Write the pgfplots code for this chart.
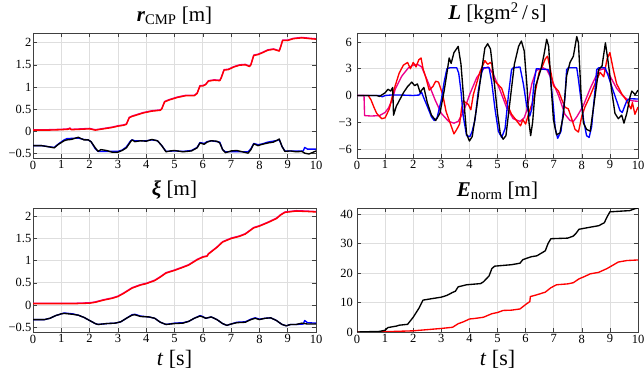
\documentclass[border=0pt]{standalone}
\usepackage{fontspec}
\setmainfont{Liberation Serif}
\usepackage{pgfplots}
\pgfplotsset{compat=1.18}
\pgfplotsset{panel/.style={
  scale only axis,
  xmin=0, xmax=10,
  xtick={0,1,2,3,4,5,6,7,8,9,10},
  xticklabels={0,1,2,3,4,5,6,7,8,9,10},
  grid=major,
  grid style={black!13, line width=0.7pt},
  axis line style={black!75, line width=0.6pt},
  tick style={black!75, line width=0.5pt},
  major tick length=4pt,
  tick align=inside,
  xtick pos=both, ytick pos=both,
  xticklabel pos=bottom, yticklabel pos=left,
  tick label style={font=\fontsize{12.5}{14}\selectfont},
  xticklabel style={inner sep=2.5pt},
  yticklabel style={inner sep=1.5pt},
  title style={font=\fontsize{21}{25}\selectfont, inner sep=0pt, anchor=south, at={(0.5,1)}, yshift=2.5pt},
  xlabel style={font=\fontsize{22}{26}\selectfont, inner sep=0pt, anchor=north, at={(0.5,0)}, yshift=-18pt},
  every axis plot/.append style={line width=1.35pt, line join=round, mark=none},
}}
\begin{document}
\begin{tikzpicture}
\useasboundingbox (0,0) rectangle (644pt,-374pt);
% ---------- top left ----------
\begin{axis}[panel, at={(33pt,-33pt)}, anchor=north west, width=283pt, height=125pt,
  ymin=-0.61, ymax=2.22, ytick={-0.5,0,0.5,1,1.5,2}, yticklabels={−0.5,0,0.5,1,1.5,2},
  title={\textbf{\textit{r}}\textsubscript{CMP} [m]}]
\addplot[magenta] coordinates {(0,0.03)(0.5,0.03)(1.0,0.04)(1.25,0.05)(1.3,0.07)(1.35,0.04)(1.7,0.05)(2.0,0.06)(2.2,0.03)(2.5,0.06)(2.8,0.09)(3.0,0.12)(3.2,0.14)(3.3,0.16)(3.4,0.31)(3.5,0.34)(3.7,0.38)(3.9,0.42)(4.2,0.46)(4.5,0.48)(4.55,0.51)(4.65,0.67)(4.8,0.71)(5.1,0.77)(5.4,0.81)(5.7,0.81)(5.8,0.86)(5.9,1.03)(6.0,1.03)(6.1,1.06)(6.2,1.14)(6.4,1.16)(6.6,1.15)(6.65,1.21)(6.75,1.39)(6.9,1.4)(7.1,1.46)(7.3,1.5)(7.5,1.51)(7.65,1.47)(7.7,1.51)(7.8,1.72)(7.95,1.74)(8.1,1.78)(8.3,1.84)(8.5,1.86)(8.7,1.82)(8.75,1.91)(8.82,2.06)(9.0,2.06)(9.2,2.1)(9.5,2.12)(9.8,2.1)(10,2.09)};
\addplot[red] coordinates {(0,0.02)(0.5,0.02)(1.0,0.03)(1.25,0.04)(1.3,0.06)(1.35,0.03)(1.7,0.04)(2.0,0.05)(2.2,0.02)(2.5,0.05)(2.8,0.08)(3.0,0.11)(3.2,0.13)(3.3,0.15)(3.4,0.3)(3.5,0.33)(3.7,0.37)(3.9,0.41)(4.2,0.45)(4.5,0.47)(4.55,0.5)(4.65,0.66)(4.8,0.7)(5.1,0.76)(5.4,0.8)(5.7,0.8)(5.8,0.85)(5.9,1.02)(6.0,1.02)(6.1,1.05)(6.2,1.13)(6.4,1.15)(6.6,1.14)(6.65,1.2)(6.75,1.38)(6.9,1.39)(7.1,1.45)(7.3,1.49)(7.5,1.5)(7.65,1.46)(7.7,1.5)(7.8,1.71)(7.95,1.73)(8.1,1.77)(8.3,1.83)(8.5,1.85)(8.7,1.81)(8.75,1.9)(8.82,2.05)(9.0,2.05)(9.2,2.09)(9.5,2.11)(9.8,2.09)(10,2.08)};
\addplot[blue] coordinates {(0,-0.33)(0.3,-0.33)(0.5,-0.35)(0.75,-0.37)(0.9,-0.29)(1.1,-0.2)(1.2,-0.17)(1.6,-0.16)(1.8,-0.19)(1.95,-0.2)(2.05,-0.24)(2.2,-0.4)(2.3,-0.46)(3.0,-0.46)(3.15,-0.43)(3.3,-0.36)(3.45,-0.22)(3.5,-0.2)(3.6,-0.22)(4.0,-0.22)(4.2,-0.2)(4.4,-0.22)(4.55,-0.33)(4.7,-0.46)(5.0,-0.45)(5.3,-0.46)(5.6,-0.44)(5.8,-0.37)(5.9,-0.26)(6.05,-0.28)(6.15,-0.24)(6.3,-0.22)(6.6,-0.25)(6.7,-0.42)(6.8,-0.47)(7.6,-0.47)(7.7,-0.4)(7.8,-0.28)(7.95,-0.31)(8.1,-0.29)(8.3,-0.25)(8.65,-0.21)(8.7,-0.19)(8.8,-0.35)(8.9,-0.45)(9.55,-0.45)(9.6,-0.37)(9.7,-0.41)(10,-0.41)};
\addplot[black] coordinates {(0,-0.33)(0.3,-0.33)(0.5,-0.35)(0.75,-0.38)(0.9,-0.3)(1.1,-0.22)(1.2,-0.2)(1.35,-0.19)(1.45,-0.17)(1.6,-0.14)(1.7,-0.17)(1.8,-0.2)(1.95,-0.2)(2.05,-0.24)(2.2,-0.38)(2.3,-0.46)(2.4,-0.42)(2.6,-0.44)(2.8,-0.48)(3.0,-0.48)(3.15,-0.44)(3.3,-0.38)(3.45,-0.24)(3.5,-0.2)(3.6,-0.24)(3.8,-0.22)(4.0,-0.23)(4.2,-0.19)(4.4,-0.22)(4.55,-0.33)(4.7,-0.47)(4.85,-0.45)(5.0,-0.44)(5.3,-0.47)(5.6,-0.45)(5.8,-0.38)(5.9,-0.27)(6.05,-0.3)(6.15,-0.25)(6.3,-0.22)(6.5,-0.23)(6.6,-0.27)(6.7,-0.42)(6.8,-0.49)(7.0,-0.45)(7.2,-0.44)(7.4,-0.47)(7.6,-0.5)(7.7,-0.42)(7.8,-0.29)(7.95,-0.33)(8.1,-0.3)(8.3,-0.27)(8.5,-0.25)(8.65,-0.2)(8.7,-0.18)(8.8,-0.35)(8.9,-0.46)(9.1,-0.45)(9.3,-0.47)(9.5,-0.46)(9.6,-0.5)(9.75,-0.52)(9.9,-0.48)(10,-0.45)};
\end{axis}
% ---------- top right ----------
\begin{axis}[panel, at={(357pt,-33pt)}, anchor=north west, width=281pt, height=125pt,
  ymin=-7, ymax=7, ytick={-6,-3,0,3,6}, yticklabels={−6,−3,0,3,6},
  yticklabel style={inner sep=5pt},
  title={\textbf{\textit{L}} [kgm\textsuperscript{2}\,/\,s]}]
\addplot[magenta] coordinates {(0,0)(0.25,0)(0.27,-2.25)(0.5,-2.3)(0.8,-2.25)(1.0,-1.9)(1.12,-1.4)(1.25,-0.5)(1.36,0.7)(1.5,1.6)(1.6,2.2)(1.83,3.1)(2.0,3.4)(2.15,3.5)(2.3,3.2)(2.54,1.4)(2.78,-0.5)(3.0,-2.0)(3.26,-2.9)(3.45,-3.1)(3.6,-2.9)(3.78,-1.9)(4.02,0.2)(4.26,2.0)(4.5,3.0)(4.67,3.2)(4.85,2.4)(5.09,0.6)(5.33,-1.4)(5.56,-2.6)(5.8,-2.9)(5.95,-2.5)(6.04,-1.7)(6.22,1.3)(6.38,2.8)(6.62,3.1)(6.75,2.9)(6.93,1.8)(7.17,0.0)(7.4,-2.1)(7.58,-2.8)(7.7,-2.9)(7.82,-2.4)(8.06,-1.1)(8.3,0.8)(8.6,2.8)(8.78,3.0)(9.0,2.2)(9.24,0.8)(9.45,0.0)(9.6,-0.4)(9.8,-0.6)(10,-0.65)};
\addplot[red] coordinates {(0,0)(0.4,0)(0.5,-0.5)(0.6,-1.3)(0.7,-2.0)(0.88,-2.6)(1.0,-2.5)(1.15,-1.5)(1.3,0.5)(1.5,2.5)(1.65,3.4)(1.8,3.7)(1.9,3.0)(2.0,3.7)(2.1,3.2)(2.2,4.0)(2.28,4.2)(2.35,3.0)(2.45,2.0)(2.57,0.6)(2.7,1.0)(2.8,1.6)(2.9,1.5)(3.05,0.1)(3.17,-1.8)(3.35,-3.4)(3.45,-4.3)(3.55,-3.8)(3.65,-3.2)(3.72,-1.5)(3.78,-0.6)(3.96,-1.0)(4.05,-1.6)(4.14,0.1)(4.37,2.6)(4.55,3.9)(4.65,3.5)(4.75,3.7)(4.8,3.5)(4.85,1.8)(5.0,1.3)(5.15,0.8)(5.33,-0.9)(5.5,-2.1)(5.7,-2.9)(5.82,-3.4)(5.9,-2.7)(6.0,-3.2)(6.13,-1.8)(6.3,-0.3)(6.48,2.6)(6.6,3.3)(6.7,4.1)(6.78,4.4)(6.87,3.1)(6.99,1.1)(7.17,0.5)(7.28,-0.4)(7.4,-1.3)(7.52,-1.5)(7.64,-2.6)(7.76,-3.8)(7.88,-4.1)(8.0,-2.3)(8.11,-1.3)(8.3,0.0)(8.47,1.3)(8.65,2.6)(8.78,2.1)(8.9,4.1)(9.0,4.8)(9.12,2.9)(9.24,1.3)(9.42,0.2)(9.6,-0.6)(9.75,-1.5)(9.8,-0.8)(9.89,-2.1)(10,-1.3)};
\addplot[blue] coordinates {(0,0)(0.8,0)(0.9,-0.15)(1.0,0)(1.2,0.05)(1.6,0.05)(2.0,0.0)(2.2,0.05)(2.3,0.35)(2.38,-0.3)(2.5,-1.2)(2.65,-2.4)(2.75,-2.8)(2.85,-2.5)(3.0,-0.5)(3.1,1.5)(3.2,3.0)(3.3,3.1)(3.55,3.1)(3.62,2.5)(3.7,0.5)(3.78,-2.3)(3.9,-4.5)(4.02,-4.6)(4.1,-4.0)(4.2,-2.7)(4.32,0.6)(4.44,2.6)(4.5,3.1)(4.7,3.1)(4.79,1.6)(4.91,-1.5)(5.03,-4.0)(5.15,-4.7)(5.27,-3.7)(5.39,0.1)(5.5,2.9)(5.56,3.1)(5.8,3.2)(5.92,1.3)(6.04,-1.2)(6.15,-2.3)(6.22,-1.5)(6.3,1.5)(6.38,3.0)(6.8,2.9)(6.87,2.4)(6.99,-1.3)(7.05,-3.6)(7.14,-4.8)(7.26,-4.0)(7.4,-0.2)(7.46,2.9)(7.52,3.1)(7.82,3.1)(7.88,1.8)(8.06,-2.7)(8.17,-4.5)(8.26,-4.7)(8.35,-3.5)(8.47,0.6)(8.53,2.9)(8.6,3.1)(8.83,3.1)(8.94,2.2)(9.12,0.5)(9.36,-1.7)(9.44,-1.9)(9.6,-0.6)(9.7,-0.35)(10,-0.4)};
\addplot[black] coordinates {(0,0)(0.7,0)(0.8,-0.1)(0.9,0.1)(1.0,0.3)(1.1,0.7)(1.2,0.5)(1.27,0.9)(1.3,-2.2)(1.4,-1.2)(1.5,-0.6)(1.65,0.3)(1.8,1.0)(1.95,1.5)(2.05,1.1)(2.15,1.3)(2.25,0.3)(2.3,0.6)(2.38,0.9)(2.5,-0.8)(2.65,-2.2)(2.8,-2.8)(2.95,-2.0)(3.1,0.5)(3.2,2.5)(3.28,4.2)(3.35,3.6)(3.45,4.8)(3.6,5.5)(3.7,3.5)(3.8,-0.5)(3.9,-4.3)(4.0,-5.1)(4.1,-4.6)(4.25,-1.5)(4.4,2.0)(4.55,5.3)(4.65,5.8)(4.75,5.2)(4.85,2.5)(5.0,-2.0)(5.1,-4.3)(5.2,-4.9)(5.3,-4.5)(5.45,-0.5)(5.6,3.5)(5.75,5.5)(5.85,6.1)(5.95,5.0)(6.05,1.0)(6.12,-3.0)(6.18,-4.5)(6.25,-3.0)(6.35,1.0)(6.45,2.0)(6.55,3.0)(6.65,4.5)(6.75,6.3)(6.82,5.5)(6.9,1.4)(6.99,-2.7)(7.1,-4.4)(7.22,-4.2)(7.34,-2.3)(7.46,2.2)(7.58,3.7)(7.7,4.4)(7.82,6.6)(7.88,5.9)(7.97,0.3)(8.06,-3.1)(8.17,-3.8)(8.3,-4.0)(8.47,-0.1)(8.6,2.9)(8.72,3.3)(8.84,5.9)(8.94,3.7)(9.06,0.6)(9.18,-2.0)(9.3,-2.6)(9.42,-2.2)(9.5,-3.1)(9.6,-2.0)(9.72,-0.1)(9.78,0.5)(9.9,0.1)(10,0.6)};
\end{axis}
% ---------- bottom left ----------
\begin{axis}[panel, at={(33pt,-208pt)}, anchor=north west, width=283pt, height=124pt,
  ymin=-0.61, ymax=2.19, ytick={-0.5,0,0.5,1,1.5,2}, yticklabels={−0.5,0,0.5,1,1.5,2},
  title={\textbf{\textit{ξ}} [m]}, xlabel={\textit{t} [s]}]
\addplot[magenta] coordinates {(0,0.04)(1.0,0.04)(1.5,0.04)(2.0,0.05)(2.2,0.07)(2.5,0.12)(2.8,0.16)(3.0,0.2)(3.2,0.27)(3.5,0.39)(3.8,0.46)(4.0,0.49)(4.3,0.56)(4.5,0.64)(4.7,0.73)(5.0,0.79)(5.3,0.86)(5.5,0.91)(5.8,1.03)(6.0,1.09)(6.15,1.11)(6.2,1.16)(6.3,1.21)(6.5,1.31)(6.7,1.43)(7.0,1.51)(7.3,1.56)(7.5,1.61)(7.8,1.75)(8.0,1.79)(8.3,1.87)(8.6,1.96)(8.75,2.04)(8.9,2.1)(9.3,2.13)(9.7,2.12)(10,2.11)};
\addplot[red] coordinates {(0,0.03)(1.0,0.03)(1.5,0.03)(2.0,0.04)(2.2,0.06)(2.5,0.11)(2.8,0.15)(3.0,0.19)(3.2,0.26)(3.5,0.38)(3.8,0.45)(4.0,0.48)(4.3,0.55)(4.5,0.63)(4.7,0.72)(5.0,0.78)(5.3,0.85)(5.5,0.9)(5.8,1.02)(6.0,1.08)(6.15,1.1)(6.2,1.15)(6.3,1.2)(6.5,1.3)(6.7,1.42)(7.0,1.5)(7.3,1.55)(7.5,1.6)(7.8,1.74)(8.0,1.78)(8.3,1.86)(8.6,1.95)(8.75,2.03)(8.9,2.09)(9.3,2.12)(9.7,2.11)(10,2.1)};
\addplot[blue] coordinates {(0,-0.33)(0.4,-0.33)(0.6,-0.3)(0.8,-0.24)(1.0,-0.2)(1.1,-0.18)(1.4,-0.2)(1.6,-0.23)(1.8,-0.28)(2.0,-0.35)(2.2,-0.42)(2.3,-0.44)(2.6,-0.42)(2.9,-0.41)(3.1,-0.38)(3.3,-0.3)(3.5,-0.22)(3.6,-0.21)(3.8,-0.25)(4.1,-0.27)(4.3,-0.3)(4.5,-0.39)(4.7,-0.44)(5.0,-0.41)(5.3,-0.4)(5.5,-0.37)(5.7,-0.3)(5.9,-0.24)(6.0,-0.26)(6.1,-0.3)(6.3,-0.27)(6.5,-0.33)(6.7,-0.42)(6.85,-0.46)(7.0,-0.43)(7.2,-0.39)(7.5,-0.38)(7.7,-0.32)(7.85,-0.29)(8.0,-0.32)(8.2,-0.3)(8.4,-0.29)(8.6,-0.35)(8.8,-0.44)(8.95,-0.47)(9.1,-0.44)(9.3,-0.44)(9.55,-0.43)(9.6,-0.35)(9.7,-0.4)(10,-0.41)};
\addplot[black] coordinates {(0,-0.33)(0.4,-0.33)(0.6,-0.3)(0.8,-0.24)(1.0,-0.2)(1.1,-0.19)(1.4,-0.21)(1.6,-0.23)(1.8,-0.28)(2.0,-0.35)(2.2,-0.42)(2.3,-0.44)(2.6,-0.42)(2.9,-0.41)(3.1,-0.38)(3.3,-0.3)(3.5,-0.23)(3.6,-0.22)(3.8,-0.26)(4.1,-0.27)(4.3,-0.3)(4.5,-0.39)(4.7,-0.44)(5.0,-0.42)(5.3,-0.41)(5.5,-0.37)(5.7,-0.3)(5.9,-0.25)(6.0,-0.27)(6.1,-0.3)(6.3,-0.27)(6.5,-0.33)(6.7,-0.42)(6.85,-0.46)(7.0,-0.43)(7.2,-0.4)(7.5,-0.39)(7.7,-0.33)(7.85,-0.3)(8.0,-0.33)(8.2,-0.3)(8.4,-0.29)(8.6,-0.35)(8.8,-0.44)(8.95,-0.47)(9.1,-0.44)(9.3,-0.44)(9.5,-0.41)(9.7,-0.43)(10,-0.43)};
\end{axis}
% ---------- bottom right ----------
\begin{axis}[panel, at={(357pt,-208pt)}, anchor=north west, width=281pt, height=124pt,
  ymin=0, ymax=42, ytick={0,10,20,30,40}, yticklabels={0,10,20,30,40},
  yticklabel style={inner sep=4pt},
  title={\textbf{\textit{E}}\textsubscript{norm} [m]}, xlabel={\textit{t} [s]}]
\addplot[red] coordinates {(0,0)(1.0,0.1)(2.0,0.4)(2.5,0.8)(3.0,1.2)(3.4,1.6)(3.6,2.8)(3.8,3.5)(4.0,4.4)(4.2,4.6)(4.5,5.0)(4.8,6.2)(5.0,6.6)(5.2,7.3)(5.5,7.4)(5.8,7.8)(6.0,9.3)(6.15,10.3)(6.17,12)(6.4,12.6)(6.7,13.5)(6.9,15)(7.1,16)(7.5,16.3)(7.7,16.7)(7.9,18)(8.1,18.8)(8.3,19.7)(8.6,20.2)(8.9,21.5)(9.1,22.6)(9.3,23.7)(9.6,24.2)(10,24.4)};
\addplot[black] coordinates {(0,0)(0.8,0.2)(1.0,0.6)(1.1,1.5)(1.4,2.0)(1.5,2.3)(1.8,2.6)(2.0,5)(2.2,8)(2.35,10.8)(2.6,11.2)(3.0,11.8)(3.2,12.4)(3.4,13.4)(3.5,13.8)(3.6,15.3)(3.9,16)(4.4,16.4)(4.5,17)(4.7,19)(4.8,21.5)(4.9,22.3)(5.5,22.8)(5.8,23.3)(5.9,24.5)(6.2,25.5)(6.4,25.8)(6.7,27.5)(6.8,30)(6.9,31.6)(7.5,31.8)(7.7,32.5)(7.8,33.5)(7.9,34.8)(8.3,35.5)(8.6,36)(8.8,37)(8.9,39)(9.0,40.7)(9.5,41)(9.7,41.1)(9.9,41.8)(10,42)};
\end{axis}
\end{tikzpicture}
\end{document}
